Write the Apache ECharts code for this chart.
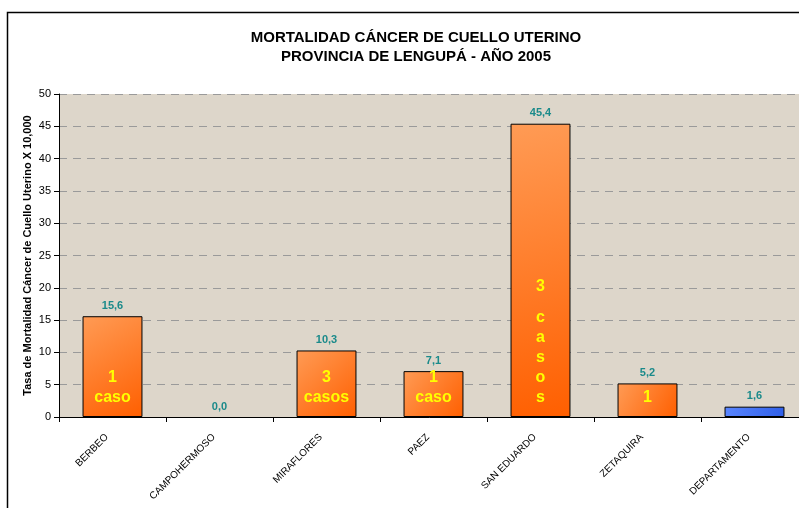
<!DOCTYPE html>
<html>
<head>
<meta charset="utf-8">
<script src="https://cdn.jsdelivr.net/npm/echarts@6/dist/echarts.min.js"></script>
<style>
  html, body { margin: 0; padding: 0; background: #fff; }
  #chart { width: 799px; height: 508px; }
</style>
</head>
<body>
<div id="chart"></div>
<script>
// municipios y tasa por 10.000
var municipios = ['BERBEO', 'CAMPOHERMOSO', 'MIRAFLORES', 'PAEZ', 'SAN EDUARDO', 'ZETAQUIRA', 'DEPARTAMENTO'];
var tasas = [15.6, 0.0, 10.3, 7.1, 45.4, 5.2, 1.6];
var casos = ['1\ncaso', '', '3\ncasos', '1\ncaso', '3\n{g|}\nc\na\ns\no\ns', '1', ''];

var naranja = new echarts.graphic.LinearGradient(0, 0, 1, 1, [
    { offset: 0, color: '#FF9B55' },
    { offset: 1, color: '#FF5F00' }
]);
var azul = new echarts.graphic.LinearGradient(0, 0, 1, 1, [
    { offset: 0, color: '#5A86FF' },
    { offset: 1, color: '#2F5FE8' }
]);

var barras = [];
for (var i = 0; i < tasas.length; i++) {
    barras.push({
        value: tasas[i],
        itemStyle: {
            color: municipios[i] === 'DEPARTAMENTO' ? azul : naranja,
            borderWidth: tasas[i] === 0 ? 0 : 1
        }
    });
}

var option = {
    backgroundColor: '#fff',
    animation: false,
    title: {
        text: 'MORTALIDAD CÁNCER DE CUELLO UTERINO\nPROVINCIA DE LENGUPÁ - AÑO 2005',
        left: 411,
        top: 23,
        textAlign: 'center',
        textStyle: {
            fontFamily: 'Liberation Sans',
            fontSize: 15,
            fontWeight: 'bold',
            color: '#000',
            lineHeight: 19
        }
    },
    graphic: [{
        type: 'rect',
        left: 5,
        top: 10,
        shape: { width: 820, height: 520 },
        style: { fill: 'none', stroke: '#000', lineWidth: 1.5 },
        z: -1
    }],
    grid: {
        left: 59,
        top: 94,
        width: 749,
        height: 323,
        outerBoundsMode: 'none',
        containLabel: false,
        show: true,
        backgroundColor: '#DDD6CA',
        borderWidth: 0
    },
    xAxis: {
        type: 'category',
        data: municipios,
        axisLine: { lineStyle: { color: '#000', width: 1 } },
        axisTick: { show: true, length: 5, lineStyle: { color: '#000' } },
        axisLabel: {
            rotate: 45,
            interval: 0,
            margin: 13,
            padding: [0, 8, 0, 0],
            fontFamily: 'Liberation Sans',
            fontSize: 10,
            color: '#000'
        }
    },
    yAxis: {
        type: 'value',
        min: 0,
        max: 50,
        interval: 5,
        name: 'Tasa de Mortalidad Cáncer de Cuello Uterino X 10,000',
        nameLocation: 'middle',
        nameGap: 26,
        nameMoveOverlap: false,
        nameTextStyle: {
            fontFamily: 'Liberation Sans',
            fontSize: 11,
            fontWeight: 'bold',
            color: '#000'
        },
        axisLine: { show: true, lineStyle: { color: '#000', width: 1 } },
        axisTick: { show: true, length: 5, lineStyle: { color: '#000' } },
        axisLabel: {
            fontFamily: 'Liberation Sans',
            fontSize: 11,
            color: '#000',
            margin: 8
        },
        splitLine: {
            lineStyle: { color: '#9A9A9A', type: [8, 6], width: 1 }
        }
    },
    series: [{
        name: 'Tasa',
        type: 'bar',
        barWidth: '56%',
        data: barras,
        itemStyle: { borderColor: '#000', borderWidth: 1 },
        label: {
            show: true,
            position: 'top',
            distance: 5,
            fontFamily: 'Liberation Sans',
            fontSize: 11,
            fontWeight: 'bold',
            color: '#1A8A8A',
            formatter: function (p) {
                return p.value.toFixed(1).replace('.', ',');
            }
        }
    }, {
        name: 'Casos',
        type: 'bar',
        barWidth: '56%',
        barGap: '-100%',
        data: tasas,
        silent: true,
        itemStyle: { color: 'rgba(0,0,0,0)' },
        label: {
            show: true,
            position: 'insideBottom',
            distance: 9,
            fontFamily: 'Liberation Sans',
            fontSize: 16,
            fontWeight: 'bold',
            color: '#FFFF00',
            lineHeight: 20,
            rich: {
                g: { lineHeight: 11, fontSize: 1 }
            },
            formatter: function (p) {
                return casos[p.dataIndex];
            }
        }
    }]
};

var myChart = echarts.init(document.getElementById('chart'));
myChart.setOption(option);
</script>
</body>
</html>
